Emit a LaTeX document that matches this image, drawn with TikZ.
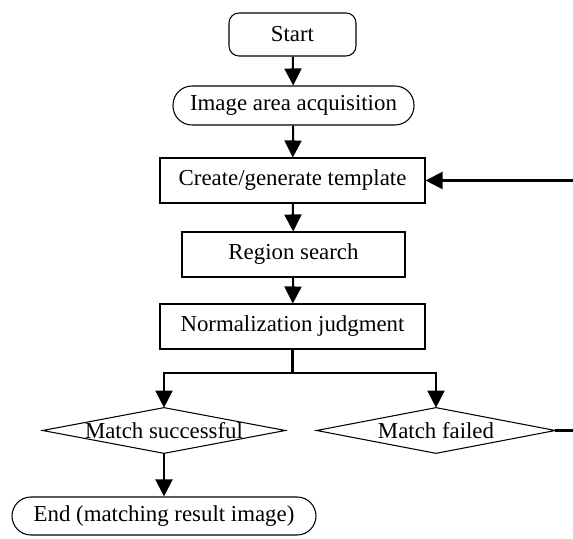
\documentclass[tikz,border=0pt]{standalone}
\usepackage{fontspec}
\setmainfont{Liberation Serif}
\usetikzlibrary{shapes}
\usetikzlibrary{positioning}
\usetikzlibrary{arrows.meta}
\tikzset{
    termnode/.style = {rectangle, rounded corners=0.2cm, line width=0.6pt, draw=black, align=center, inner sep=0pt, font=\fontsize{13}{15}\selectfont, text=black},
    pillnode/.style = {rectangle, rounded corners=0.38cm, line width=0.6pt, draw=black, align=center, inner sep=0pt, font=\fontsize{13}{15}\selectfont, text=black},
    procnode/.style = {rectangle, line width=0.6pt, draw=black, align=center, inner sep=0pt, font=\fontsize{13}{15}\selectfont, text=black},
    decnode/.style = {rectangle, draw=none, align=center, inner sep=0pt, font=\fontsize{13}{15}\selectfont, text=black},
    edgea/.style = {-{Triangle[length=0.34cm,width=0.34cm]}, line width=1.15pt, black},
    edged/.style = {-, line width=0.6pt, black}, % diamond outline
}

\begin{document}
\begin{tikzpicture}
\path[use as bounding box] (0, 0) rectangle (11.46, -10.78);
%
\node[termnode, minimum width=2.54cm, minimum height=0.86cm] at (5.85, -0.69) (start) {Start};
\node[pillnode, minimum width=4.82cm, minimum height=0.78cm] at (5.87, -2.11) (area) {Image area acquisition};
\node[procnode, minimum width=5.30cm, minimum height=0.90cm] at (5.85, -3.61) (create) {Create/generate template};
\node[procnode, minimum width=4.46cm, minimum height=0.90cm] at (5.87, -5.09) (search) {Region search};
\node[procnode, minimum width=5.30cm, minimum height=0.90cm] at (5.85, -6.53) (norm) {Normalization judgment};
\node[decnode, minimum width=4.84cm, minimum height=0.90cm] at (3.28, -8.61) (ok) {Match successful};
\node[decnode, minimum width=4.76cm, minimum height=0.90cm] at (8.72, -8.61) (fail) {Match failed};
\node[pillnode, minimum width=6.08cm, minimum height=0.76cm] at (3.28, -10.32) (end) {End (matching result image)};
%
\foreach \d in {ok, fail}
    \draw[edged] (\d.west) -- (\d.north) -- (\d.east) -- (\d.south) -- cycle;
%
\coordinate (split) at (5.85, -7.46);
\coordinate (back) at (11.60, -8.61);
\draw[edgea] (start) -- (area);
\draw[edgea] (area) -- (create);
\draw[edgea] (create) -- (search);
\draw[edgea] (search) -- (norm);
\draw[edgea, -] (norm.south) -- (split);
\draw[edgea] (split) -| (ok.north);
\draw[edgea] (split) -| (fail.north);
\draw[edgea] (ok) -- (end);
\draw[edgea] (fail.east) -- (back) |- (create.east);
\end{tikzpicture}
\end{document}
